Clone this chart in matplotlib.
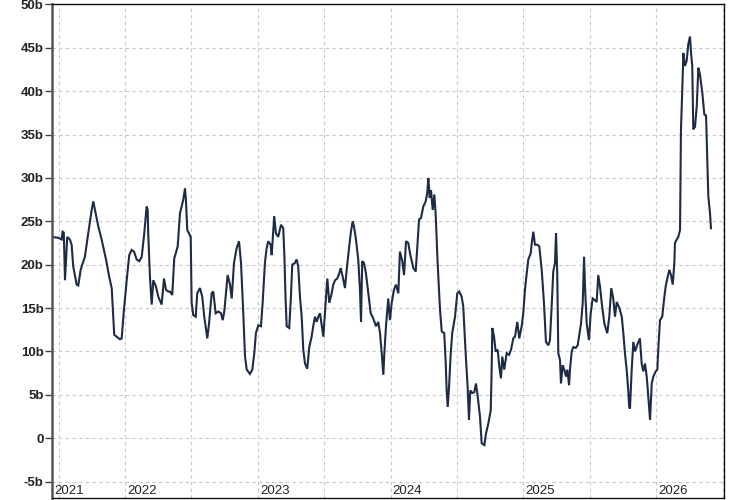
import numpy as np
import matplotlib
matplotlib.use('Agg')
import matplotlib.pyplot as plt

plt.rcParams['font.family'] = ['Liberation Sans', 'DejaVu Sans']

# decimal year, value in billions
t = [2021.447, 2021.496, 2021.522, 2021.529, 2021.538, 2021.547, 2021.564, 2021.584,
     2021.597, 2021.609, 2021.635, 2021.647, 2021.665, 2021.677, 2021.697, 2021.722,
     2021.748, 2021.760, 2021.773, 2021.798, 2021.823, 2021.856, 2021.880, 2021.899,
     2021.911, 2021.918, 2021.936, 2021.961, 2021.974, 2021.991, 2022.012, 2022.031,
     2022.049, 2022.067, 2022.087, 2022.106, 2022.125, 2022.144, 2022.162, 2022.170,
     2022.174, 2022.187, 2022.200, 2022.212, 2022.232, 2022.250, 2022.275, 2022.293,
     2022.308, 2022.325, 2022.338, 2022.355, 2022.370, 2022.396, 2022.413, 2022.438,
     2022.451, 2022.458, 2022.468, 2022.494, 2022.501, 2022.513, 2022.532, 2022.543,
     2022.564, 2022.581, 2022.596, 2022.619, 2022.632, 2022.652, 2022.664, 2022.682,
     2022.702, 2022.722, 2022.735, 2022.747, 2022.772, 2022.790, 2022.803, 2022.820,
     2022.840, 2022.858, 2022.873, 2022.890, 2022.903, 2022.916, 2022.940, 2022.958,
     2022.973, 2022.985, 2023.003, 2023.023, 2023.036, 2023.053, 2023.066, 2023.078,
     2023.096, 2023.104, 2023.123, 2023.136, 2023.153, 2023.174, 2023.191, 2023.200,
     2023.208, 2023.217, 2023.236, 2023.249, 2023.259, 2023.279, 2023.292, 2023.304,
     2023.317, 2023.330, 2023.342, 2023.355, 2023.372, 2023.387, 2023.405, 2023.417,
     2023.430, 2023.443, 2023.455, 2023.468, 2023.481, 2023.493, 2023.505, 2023.523,
     2023.538, 2023.556, 2023.568, 2023.581, 2023.598, 2023.613, 2023.624, 2023.639,
     2023.656, 2023.673, 2023.688, 2023.701, 2023.714, 2023.724, 2023.739, 2023.756,
     2023.769, 2023.777, 2023.786, 2023.799, 2023.814, 2023.832, 2023.850, 2023.869,
     2023.890, 2023.907, 2023.920, 2023.933, 2023.945, 2023.952, 2023.965, 2023.982,
     2023.995, 2024.008, 2024.025, 2024.040, 2024.058, 2024.070, 2024.088, 2024.101,
     2024.116, 2024.133, 2024.146, 2024.171, 2024.189, 2024.204, 2024.214, 2024.229,
     2024.246, 2024.264, 2024.276, 2024.284, 2024.294, 2024.304, 2024.317, 2024.329,
     2024.339, 2024.354, 2024.372, 2024.385, 2024.404, 2024.415, 2024.422, 2024.430,
     2024.440, 2024.452, 2024.464, 2024.485, 2024.502, 2024.517, 2024.535, 2024.547,
     2024.565, 2024.580, 2024.590, 2024.600, 2024.615, 2024.630, 2024.643, 2024.656,
     2024.673, 2024.686, 2024.706, 2024.718, 2024.736, 2024.754, 2024.761, 2024.766,
     2024.779, 2024.791, 2024.806, 2024.819, 2024.831, 2024.841, 2024.856, 2024.874,
     2024.892, 2024.907, 2024.924, 2024.937, 2024.954, 2024.969, 2024.987, 2024.999,
     2025.012, 2025.025, 2025.037, 2025.055, 2025.063, 2025.075, 2025.087, 2025.105,
     2025.120, 2025.138, 2025.155, 2025.170, 2025.188, 2025.200, 2025.213, 2025.225,
     2025.238, 2025.246, 2025.255, 2025.263, 2025.276, 2025.283, 2025.296, 2025.308,
     2025.321, 2025.331, 2025.344, 2025.351, 2025.364, 2025.376, 2025.394, 2025.409,
     2025.421, 2025.434, 2025.447, 2025.457, 2025.464, 2025.477, 2025.494, 2025.507,
     2025.522, 2025.539, 2025.552, 2025.564, 2025.577, 2025.590, 2025.610, 2025.632,
     2025.647, 2025.662, 2025.677, 2025.690, 2025.703, 2025.723, 2025.741, 2025.753,
     2025.765, 2025.778, 2025.790, 2025.797, 2025.803, 2025.816, 2025.828, 2025.841,
     2025.861, 2025.878, 2025.891, 2025.903, 2025.916, 2025.929, 2025.941, 2025.954,
     2025.967, 2025.979, 2025.997, 2026.009, 2026.016, 2026.029, 2026.046, 2026.062,
     2026.072, 2026.087, 2026.099, 2026.112, 2026.125, 2026.137, 2026.142, 2026.155,
     2026.167, 2026.180, 2026.184, 2026.187, 2026.197, 2026.205, 2026.217, 2026.230,
     2026.242, 2026.255, 2026.263, 2026.272, 2026.280, 2026.293, 2026.306, 2026.318,
     2026.330, 2026.348, 2026.363, 2026.376, 2026.385, 2026.393, 2026.406, 2026.413]

v = [23.2, 23.1, 22.9, 23.8, 23.7, 18.2, 23.2, 22.9,
     22.3, 19.8, 17.7, 17.6, 19.4, 20.0, 20.9, 23.6,
     26.3, 27.3, 26.3, 24.4, 22.9, 20.6, 18.6, 17.3,
     14.0, 11.9, 11.7, 11.4, 11.5, 14.8, 18.2, 21.1,
     21.7, 21.5, 20.6, 20.4, 20.9, 23.6, 26.7, 26.3,
     23.6, 18.6, 15.4, 18.2, 17.5, 16.3, 15.4, 18.4,
     17.1, 16.9, 16.9, 16.5, 20.7, 22.1, 25.9, 27.5,
     28.8, 27.5, 24.0, 23.2, 15.6, 14.2, 14.0, 16.7,
     17.3, 16.3, 14.0, 11.5, 13.2, 16.7, 16.9, 14.4,
     14.6, 14.4, 13.6, 14.6, 18.8, 17.7, 16.1, 20.2,
     21.9, 22.7, 20.2, 14.4, 9.4, 7.9, 7.4, 7.9,
     9.8, 12.1, 13.0, 12.9, 15.6, 20.2, 21.9, 22.7,
     22.3, 21.1, 25.6, 23.6, 23.2, 24.6, 24.2, 20.9,
     16.3, 12.9, 12.7, 16.3, 20.0, 20.2, 20.6, 19.8,
     16.3, 14.0, 10.2, 8.6, 8.0, 10.5, 11.7, 12.9,
     14.0, 13.4, 14.0, 14.4, 13.0, 11.7, 14.4, 18.4,
     15.6, 16.7, 17.7, 18.2, 18.4, 19.0, 19.6, 18.6,
     17.3, 20.0, 22.1, 23.8, 25.0, 24.4, 22.9, 20.6,
     17.1, 13.4, 20.4, 20.2, 19.0, 16.7, 14.4, 13.8,
     12.9, 13.4, 12.1, 9.8, 7.3, 9.6, 12.9, 16.1,
     13.6, 15.6, 17.1, 17.7, 16.7, 21.5, 20.4, 18.8,
     22.7, 22.5, 21.3, 19.6, 19.2, 22.9, 25.2, 25.4,
     26.7, 27.3, 28.3, 30.0, 27.7, 28.6, 26.3, 28.1,
     25.9, 20.2, 14.8, 12.3, 12.1, 8.6, 5.5, 3.6,
     5.9, 9.6, 12.1, 14.0, 16.7, 16.9, 16.3, 15.2,
     9.8, 5.9, 2.1, 5.5, 5.2, 5.3, 6.3, 4.8,
     2.5, -0.6, -0.8, 0.5, 1.7, 3.2, 7.9, 12.7,
     11.7, 10.0, 10.2, 8.2, 6.9, 9.4, 7.9, 9.8,
     9.6, 10.2, 11.5, 11.7, 13.4, 11.5, 12.9, 14.4,
     17.1, 19.0, 20.6, 21.3, 22.5, 23.8, 22.3, 22.3,
     22.1, 19.4, 15.6, 11.1, 10.7, 11.3, 15.2, 19.2,
     20.2, 23.6, 19.0, 9.8, 9.0, 6.3, 8.4, 7.9,
     7.1, 7.9, 6.1, 7.9, 10.0, 10.5, 10.4, 10.7,
     11.9, 13.2, 15.6, 20.9, 17.5, 13.2, 11.3, 14.4,
     16.1, 15.9, 15.7, 18.8, 17.5, 15.6, 13.2, 12.1,
     14.0, 17.3, 16.1, 14.0, 15.7, 15.0, 14.0, 12.1,
     9.8, 7.9, 5.5, 3.6, 3.4, 7.9, 11.1, 10.0,
     10.9, 11.5, 8.6, 7.7, 8.6, 7.1, 4.8, 2.1,
     6.3, 7.1, 7.7, 7.9, 10.2, 13.6, 14.0, 16.3,
     17.5, 18.6, 19.4, 18.8, 17.7, 20.2, 22.5, 22.9,
     23.2, 24.0, 30.0, 35.6, 40.2, 44.4, 42.9, 43.5,
     45.4, 46.3, 44.4, 42.9, 35.6, 35.9, 38.3, 42.7,
     41.9, 39.8, 37.3, 37.2, 32.5, 27.9, 25.9, 24.2]

year_labels = ['2021', '2022', '2023', '2024', '2025', '2026']
year_pos = [2021.449, 2022.0, 2023.0, 2024.0, 2025.0, 2026.0]
yticks = list(range(-5, 51, 5))

fig = plt.figure(figsize=(7.5, 5), dpi=100)
ax = fig.add_axes([0.0693, 0.004, 0.896, 0.988])

ax.plot(t, v, color='#1e2b45', lw=1.5, solid_joinstyle='miter')

ax.set_xlim(2021.449, 2026.511)
ax.set_ylim(-6.9, 50.05)

ax.set_xticks(np.arange(2021.5, 2026.51, 0.5))
ax.tick_params(axis='x', length=0, labelbottom=False)
ax.set_yticks(yticks)
ax.set_yticklabels([('%db' % y) if y != 0 else '0' for y in yticks],
                   fontsize=9.5, fontweight='bold', color='#222222')
ax.tick_params(axis='y', length=5, width=1, color='#444444', pad=1)

ax.grid(True, color='#c8c8c8', lw=0.8, linestyle=(0, (3, 3)))
ax.set_axisbelow(True)

for lab, x in zip(year_labels, year_pos):
    ax.text(x + 0.015, -6.75, lab, ha='left', va='bottom', fontsize=9.5,
            color='#222222')

for s in ['top', 'right', 'bottom']:
    ax.spines[s].set_color('#111111')
    ax.spines[s].set_linewidth(1.0)
ax.spines['left'].set_color('#555555')
ax.spines['left'].set_linewidth(1.8)

plt.savefig('out.png', dpi=100)
